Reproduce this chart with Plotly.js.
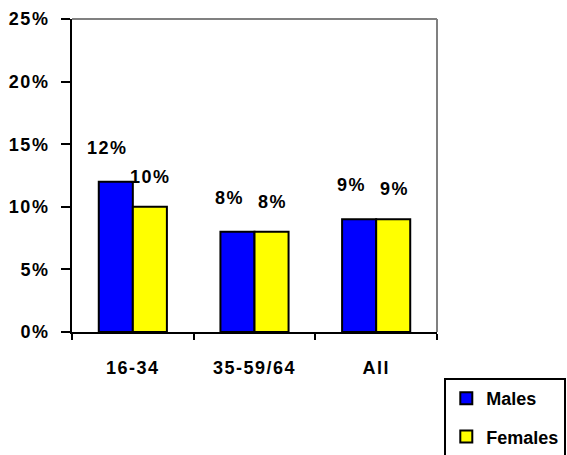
<!DOCTYPE html>
<html><head><meta charset="utf-8">
<script src="https://cdn.plot.ly/plotly-3.0.1.min.js"></script>
<style>html,body{margin:0;padding:0;background:#fff;}
.xtick text, .ytick text, .annotation-text{letter-spacing:1.5px;}</style>
</head><body>
<div id="chart" style="width:567px;height:455px;"></div>
<script>
var categories = ["16-34", "35-59/64", "All"];
var males = [12, 8, 9];
var females = [10, 8, 9];
var maleLabels = ["12%", "8%", "9%"];
var femaleLabels = ["10%", "8%", "9%"];

var FONT = "Liberation Sans, Arial, sans-serif";
var TF = {family:FONT, size:18, color:"#000", weight:"bold"};

var traces = [
  {type:"bar", name:"Males", x:categories, y:males, legendgroup:"m",
   marker:{color:"#0000FF", line:{color:"#000000", width:2}}},
  {type:"bar", name:"Females", x:categories, y:females, legendgroup:"f",
   marker:{color:"#FFFF00", line:{color:"#000000", width:2}}}
];

var annotations = [];
categories.forEach(function(c, i){
  annotations.push({x:c, y:males[i], text:maleLabels[i], showarrow:false,
    xshift:-25, yshift:34, font:TF});
  annotations.push({x:c, y:females[i], text:femaleLabels[i], showarrow:false,
    xshift:18, yshift:30, font:TF});
});

var layout = {
  width:567, height:455,
  margin:{l:72, r:130, t:19, b:123, autoexpand:false},
  paper_bgcolor:"#fff", plot_bgcolor:"#fff",
  font:TF,
  barmode:"group", bargap:0.44, bargroupgap:0,
  showlegend:true,
  legend:{x:1.02, y:-0.147, xanchor:"left", yanchor:"top",
    bordercolor:"#000", borderwidth:2, bgcolor:"#fff",
    font:TF, tracegroupgap:12, entrywidth:130, itemwidth:30},
  xaxis:{type:"category", showline:true, linecolor:"#000", linewidth:2,
    ticks:"outside", tickson:"boundaries", ticklen:6, tickwidth:2, tickcolor:"#000",
    ticklabelstandoff:18, showgrid:false, zeroline:false, tickfont:TF},
  yaxis:{range:[0,25], tickvals:[0,5,10,15,20,25], ticktext:["0%","5%","10%","15%","20%","25%"],
    showline:true, linecolor:"#000", linewidth:2, ticks:"outside", ticklen:9, tickwidth:2,
    tickcolor:"#000", ticklabelstandoff:8, showgrid:false, zeroline:false, tickfont:TF},
  annotations:annotations,
  shapes:[
    {type:"line", xref:"paper", yref:"paper", x0:0, x1:1, y0:1, y1:1, line:{color:"#808080", width:2}},
    {type:"line", xref:"paper", yref:"paper", x0:1, x1:1, y0:0, y1:1, line:{color:"#808080", width:2}}
  ]
};
Plotly.newPlot("chart", traces, layout, {displayModeBar:false, staticPlot:true});
</script>
</body></html>
